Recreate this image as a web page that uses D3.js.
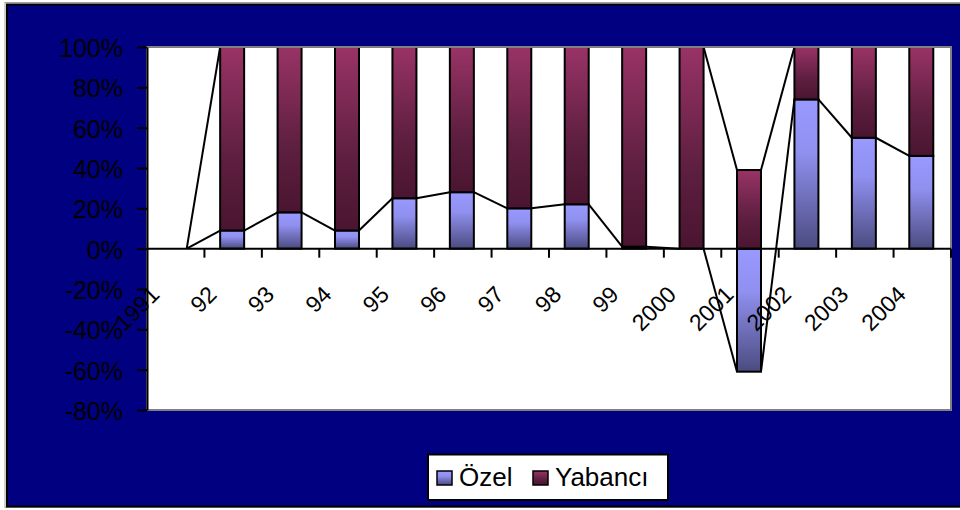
<!DOCTYPE html>
<html><head><meta charset="utf-8">
<script src="https://cdn.jsdelivr.net/npm/d3@7"></script>
<style>body{margin:0;background:#fff}svg{display:block;font-family:"Liberation Sans",Arial,sans-serif}</style>
</head><body><svg id="c" width="960" height="510"></svg>
<script>
const categories = ['1991','92','93','94','95','96','97','98','99','2000','2001','2002','2003','2004'];
const ozel = [0, 9, 18, 9, 25, 28, 20, 22, 1, 0, -61, 74, 55, 46];
const yabanci = [0, 91, 82, 91, 75, 72, 80, 78, 99, 100, 39, 26, 45, 54];
const yTickValues = [-80, -60, -40, -20, 0, 20, 40, 60, 80, 100];
const seriesNames = ['Özel', 'Yabancı'];

const svg = d3.select('#c');
const defs = svg.append('defs');
const gradStops = {
  'Özel': [[0, '#9999ff'], [0.35, '#9090f0'], [1, '#4b4b80']],
  'Yabancı': [[0, '#993366'], [0.6, '#5e1f40'], [1, '#4a1530']]
};
const gradId = {'Özel': 'gOzel', 'Yabancı': 'gYab'};
seriesNames.forEach(s => {
  const g = defs.append('linearGradient').attr('id', gradId[s])
    .attr('x1', 0).attr('y1', 0).attr('x2', 0).attr('y2', 1);
  gradStops[s].forEach(([o, c]) => g.append('stop').attr('offset', o).attr('stop-color', c));
});

// chart area
svg.append('rect').attr('x', 5).attr('y', 2.5).attr('width', 970).attr('height', 505)
  .attr('fill', 'none').attr('stroke', '#a0a0a0').attr('stroke-width', 1);
svg.append('rect').attr('x', 7).attr('y', 4.5).attr('width', 970).attr('height', 502)
  .attr('fill', '#000080').attr('stroke', '#000').attr('stroke-width', 2);

const P = {l: 147, r: 951, t: 47, b: 410};
const y = d3.scaleLinear().domain([-80, 100]).range([P.b, P.t]);
const x = d3.scaleBand().domain(categories).range([P.l, P.r]).padding(0);
const barW = 24;
const barX = c => x(c) + (x.bandwidth() - barW) / 2 - 1;

svg.append('rect').attr('x', P.l).attr('y', P.t).attr('width', P.r - P.l).attr('height', P.b - P.t)
  .attr('fill', '#fff');

const rows = categories.map((c, i) => ({cat: c, 'Özel': ozel[i], 'Yabancı': yabanci[i]}));
const stacked = d3.stack().keys(seriesNames).offset(d3.stackOffsetDiverging)(rows);

// bars
stacked.forEach(layer => {
  svg.append('g').selectAll('rect')
    .data(layer.filter(d => d[1] !== d[0]))
    .join('rect')
    .attr('x', d => barX(d.data.cat))
    .attr('width', barW)
    .attr('y', d => y(d[1]))
    .attr('height', d => y(d[0]) - y(d[1]))
    .attr('fill', `url(#${gradId[layer.key]})`)
    .attr('stroke', '#000').attr('stroke-width', 2);
});

// series lines
stacked.forEach(layer => {
  const pts = layer.map(d => ({cat: d.data.cat, v: d.data[layer.key] >= 0 ? d[1] : d[0]}));
  svg.append('g').selectAll('line')
    .data(d3.pairs(pts))
    .join('line')
    .attr('x1', ([a]) => barX(a.cat) + barW)
    .attr('y1', ([a]) => y(a.v))
    .attr('x2', ([, b]) => barX(b.cat))
    .attr('y2', ([, b]) => y(b.v))
    .attr('stroke', '#000').attr('stroke-width', 2);
});

// plot border
svg.append('rect').attr('x', P.l).attr('y', P.t).attr('width', P.r - P.l).attr('height', P.b - P.t)
  .attr('fill', 'none').attr('stroke', '#808080').attr('stroke-width', 2);

// y axis
const yAxis = svg.append('g').attr('transform', `translate(${P.l},0)`)
  .call(d3.axisLeft(y).tickValues(yTickValues).tickFormat(d => d + '%').tickSize(10).tickSizeOuter(0).tickPadding(14));
yAxis.select('.domain').attr('stroke', '#000').attr('stroke-width', 2);
yAxis.selectAll('.tick line').attr('stroke', '#000').attr('stroke-width', 2);
yAxis.selectAll('.tick text').attr('font-size', 25).attr('font-family', '"Liberation Sans",Arial,sans-serif')
  .attr('fill', '#000').attr('dy', '0.38em');

// x axis at zero
const xAxis = svg.append('g');
xAxis.append('line').attr('x1', P.l).attr('x2', P.r).attr('y1', y(0)).attr('y2', y(0))
  .attr('stroke', '#000').attr('stroke-width', 2);
xAxis.selectAll('line.tk').data(categories).join('line').attr('class', 'tk')
  .attr('x1', c => x(c) + x.bandwidth()).attr('x2', c => x(c) + x.bandwidth())
  .attr('y1', y(0)).attr('y2', y(0) + 9)
  .attr('stroke', '#000').attr('stroke-width', 2);
xAxis.selectAll('text').data(categories).join('text')
  .attr('transform', c => `translate(${x(c) + x.bandwidth() / 2 - 15},296) rotate(-45)`)
  .attr('text-anchor', 'end').attr('font-size', 23).attr('fill', '#000')
  .text(c => c);

// legend
const lg = svg.append('g');
lg.append('rect').attr('x', 428).attr('y', 454.5).attr('width', 240).attr('height', 45.5)
  .attr('fill', '#fff').attr('stroke', '#000').attr('stroke-width', 2);
const legendX = [437, 533];
seriesNames.forEach((s, i) => {
  lg.append('rect').attr('x', legendX[i]).attr('y', 471).attr('width', 15).attr('height', 14)
    .attr('fill', `url(#${gradId[s]})`).attr('stroke', '#000').attr('stroke-width', 1.5);
  lg.append('text').attr('x', legendX[i] + 22).attr('y', 486).attr('font-size', 26).attr('fill', '#000').text(s);
});
</script></body></html>
